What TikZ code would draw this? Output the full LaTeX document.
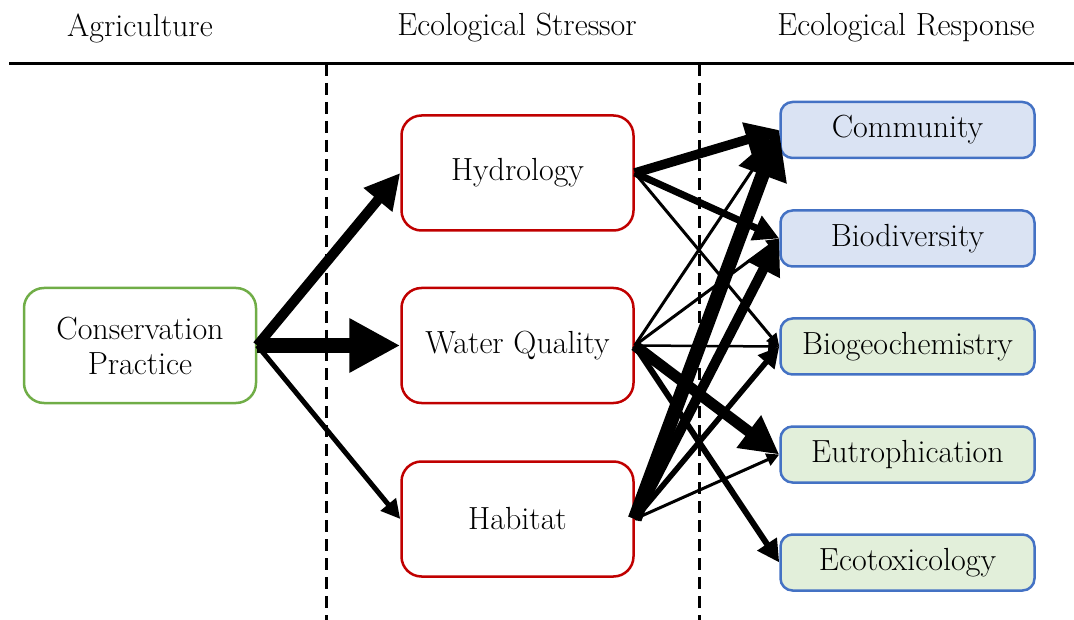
\documentclass[tikz,border=0pt]{standalone}
\usepackage{fontspec}
\setmainfont{Latin Modern Roman}
\usetikzlibrary{arrows.meta}
\definecolor{cgreen}{RGB}{112,173,71}
\definecolor{cred}{RGB}{192,0,0}
\definecolor{cblue}{RGB}{68,114,196}
\definecolor{fblue}{RGB}{218,227,243}
\definecolor{fgreen}{RGB}{226,239,218}
\tikzset{
  txt/.style={font=\fontsize{32}{35}\selectfont, align=center},
  bigbox/.style={txt, draw, line width=2.5pt, rounded corners=20pt, minimum width=232pt, minimum height=115pt, inner sep=0pt},
  respbox/.style={txt, draw=cblue, line width=2.5pt, rounded corners=12pt, minimum width=254pt, minimum height=56pt, inner sep=0pt},
  arr/.style={line width=#1, -{Triangle[length=3pt 3.2, width=3pt 3.2]}},
  sep/.style={line width=3pt, dash pattern=on 12pt off 7pt},
}
\begin{document}
\begin{tikzpicture}[x=1pt,y=-1pt]
\useasboundingbox (0,0) rectangle (1074,620);
% headers
\node[txt] (h1) at (140,28) {Agriculture};
\node[txt] (h2) at (517,28) {Ecological Stressor};
\node[txt] (h3) at (906,28) {Ecological Response};
\coordinate (l1) at (9,64);
\coordinate (l2) at (1074,64);
\draw[line width=3pt] (l1) -- (l2);
\coordinate (d1a) at (326,64);
\coordinate (d1b) at (326,620);
\coordinate (d2a) at (699,64);
\coordinate (d2b) at (699,620);
\draw[sep] (d1a) -- (d1b);
\draw[sep] (d2a) -- (d2b);
% boxes
\node[bigbox, draw=cgreen] (cp) at (140,345.5) {Conservation\\Practice};
\node[bigbox, draw=cred] (hy) at (517.5,173) {Hydrology};
\node[bigbox, draw=cred] (wq) at (517.5,345.5) {Water Quality};
\node[bigbox, draw=cred] (ha) at (517.5,519) {Habitat};
\node[respbox, fill=fblue] (co) at (907.5,130) {Community};
\node[respbox, fill=fblue] (bd) at (907.5,238.5) {Biodiversity};
\node[respbox, fill=fgreen] (bg) at (907.5,346.5) {Biogeochemistry};
\node[respbox, fill=fgreen] (eu) at (907.5,454.5) {Eutrophication};
\node[respbox, fill=fgreen] (ec) at (907.5,562.5) {Ecotoxicology};
% arrows from conservation practice
\draw[arr=10pt] (cp.east) -- (hy.west);
\draw[arr=15pt] (cp.east) -- (wq.west);
\draw[arr=5pt] (cp.east) -- (ha.west);
% from hydrology
\draw[arr=9.5pt] (hy.east) -- (co.west);
\draw[arr=7pt] (hy.east) -- (bd.west);
\draw[arr=3pt] (hy.east) -- (bg.west);
% from water quality
\draw[arr=3pt] (wq.east) -- (co.west);
\draw[arr=3pt] (wq.east) -- (bd.west);
\draw[arr=2.5pt] (wq.east) -- (bg.west);
\draw[arr=11pt] (wq.east) -- (eu.west);
\draw[arr=6pt] (wq.east) -- (ec.west);
% from habitat
\draw[arr=14pt] (ha.east) -- (co.west);
\draw[arr=10pt] (ha.east) -- (bd.west);
\draw[arr=5.5pt] (ha.east) -- (bg.west);
\draw[arr=3pt] (ha.east) -- (eu.west);
\end{tikzpicture}
\end{document}
